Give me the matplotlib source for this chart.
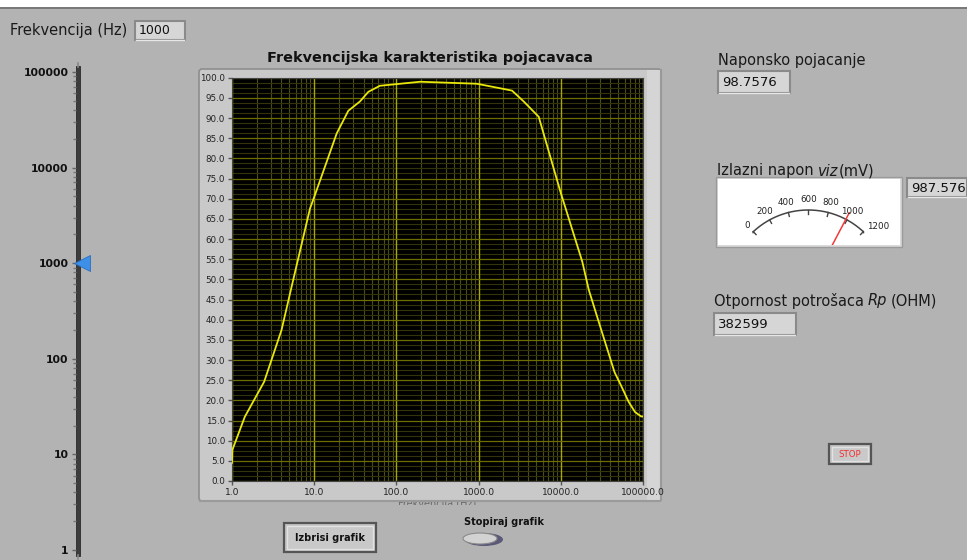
import numpy as np
import matplotlib
matplotlib.use("Agg")
import matplotlib.pyplot as plt
from matplotlib.patches import Rectangle, Ellipse, FancyBboxPatch
from matplotlib.ticker import FixedLocator, NullFormatter
from matplotlib.transforms import Bbox, TransformedBbox

# ---- data ----
freq_hz = [1.0, 1.01, 1.43, 2.46, 4.0, 5.4, 8.9, 10.2, 18.8, 26, 36, 45.6, 63,
           195, 955, 2550, 3540, 5390, 9900, 18240, 21900, 28000, 45000,
           53700, 67000, 80000, 95000, 100000]
gain = [4.5, 7.7, 15.9, 24.6, 37.4, 48.8, 67.6, 70.9, 86.2, 91.8, 94.1, 96.5, 98.0,
        99.0, 98.5, 96.8, 94.1, 90.3, 71.7, 54.4, 47.4, 40.4, 27.0,
        23.8, 19.6, 17.1, 16.0, 16.0]

freq_set = 1000
voltage_gain = 98.7576
output_mv = 987.576
load_ohm = 382599

y_ticks = np.arange(0, 101, 5)
x_ticks = [1, 10, 100, 1000, 10000, 100000]
slider_ticks = [1, 10, 100, 1000, 10000, 100000]
meter_ticks = [0, 200, 400, 600, 800, 1000, 1200]

W, H = 967, 560
BG = "#B3B3B3"
FONT = "DejaVu Sans"


def frect(x0, y0, x1, y1):
    return [x0 / W, 1 - y1 / H, (x1 - x0) / W, (y1 - y0) / H]


fig = plt.figure(figsize=(W / 100, H / 100), dpi=100, facecolor=BG)

# panel layer in pixel coordinates
pan = fig.add_axes([0, 0, 1, 1], zorder=0)
pan.set_xlim(0, W)
pan.set_ylim(H, 0)
pan.axis("off")

pan.add_patch(Rectangle((0, 0), W, 7, facecolor="white", edgecolor="none"))
pan.plot([0, W], [7.5, 7.5], color="#6E6E6E", lw=1.2)


def numbox(x0, y0, x1, y1, txt, size=9.5):
    pan.add_patch(Rectangle((x0, y0), x1 - x0, y1 - y0, facecolor="#D6D6D6",
                            edgecolor="#8A8A8A", lw=1.5))
    pan.plot([x0 + 1, x1 - 1], [y1 - 0.5, y1 - 0.5], color="#E6E6E6", lw=1)
    pan.text(x0 + 4, (y0 + y1) / 2 + 0.5, txt, fontsize=size, family=FONT,
             color="#111111", va="center", ha="left")


def button(x0, y0, x1, y1, txt, color, size, weight):
    pan.add_patch(Rectangle((x0, y0), x1 - x0, y1 - y0, facecolor="#C4C4C4",
                            edgecolor="#555555", lw=1.6))
    pan.add_patch(Rectangle((x0 + 3, y0 + 3), x1 - x0 - 6, y1 - y0 - 6,
                            facecolor="#C9C9C9", edgecolor="#E2E2E2", lw=1))
    pan.text((x0 + x1) / 2, (y0 + y1) / 2 + 0.5, txt, fontsize=size, family=FONT,
             weight=weight, color=color, ha="center", va="center")


# frequency control
pan.text(10, 30, "Frekvencija (Hz)", fontsize=10.5, family=FONT, color="#1A1A1A",
         va="center", ha="left")
numbox(135, 21, 185, 40, str(freq_set), size=9)

# slider bar
pan.add_patch(Rectangle((75.5, 66), 4, 490, facecolor="#3C3C3C", edgecolor="#2A2A2A", lw=0.6))
pan.plot([77.5, 77.5], [63, 67], color="#888888", lw=1.2)
pan.plot([77.5, 77.5], [555, 559], color="#888888", lw=1.2)

ax_s = fig.add_axes(frect(75.5, 72, 79.5, 550), zorder=2)
ax_s.set_yscale("log")
ax_s.set_ylim(1, 1e5)
ax_s.set_xlim(0, 1)
ax_s.patch.set_alpha(0)
for s in ax_s.spines.values():
    s.set_visible(False)
ax_s.set_xticks([])
ax_s.yaxis.set_major_locator(FixedLocator(slider_ticks))
ax_s.set_yticklabels([str(v) for v in slider_ticks], fontsize=7.8, weight="bold",
                     family=FONT, color="#111111")
minor = [m * d for d in slider_ticks[:-1] for m in range(2, 10)]
ax_s.yaxis.set_minor_locator(FixedLocator(minor))
ax_s.yaxis.set_minor_formatter(NullFormatter())
ax_s.tick_params(axis="y", which="major", length=3, width=1, color="#666666", pad=2)
ax_s.tick_params(axis="y", which="minor", length=2.5, width=1, color="#777777")
ax_s.plot([1.6], [freq_set], marker="<", markersize=11, color="#3D8FE8",
          markeredgecolor="#2A6FC0", mew=0.6, clip_on=False)

# graph frame
pan.add_patch(FancyBboxPatch((199, 69), 462, 432, boxstyle="round,pad=0,rounding_size=3",
                             facecolor="#C9C9C9", edgecolor="#8E8E8E", lw=1.2))
pan.add_patch(Rectangle((647, 70), 14, 430, facecolor="#D5D5D5", edgecolor="none"))
pan.plot([660.5, 660.5], [70, 500], color="#9A9A9A", lw=1.5)
pan.plot([200, 660], [500.5, 500.5], color="#9A9A9A", lw=1.5)
pan.text(430, 58, "Frekvencijska karakteristika pojacavaca", fontsize=10.4,
         weight="bold", family=FONT, color="#111111", ha="center", va="center")
xl = pan.text(437, 499, "Frekvencija (Hz)", fontsize=7, family=FONT, color="#6A6A6A",
              ha="center", va="top")
xl.set_clip_box(TransformedBbox(Bbox.from_extents(380, 501.5, 500, 504.5), pan.transData))
xl.set_clip_on(True)

ax = fig.add_axes(frect(232, 77.7, 643, 481), zorder=2)
ax.set_facecolor("black")
ax.set_xscale("log")
ax.set_xlim(1, 1e5)
ax.set_ylim(0, 100)

# grid lines
for d in x_ticks:
    ax.axvline(d, color="#A8A800", lw=1.0, zorder=1)
    if d < 1e5:
        for m in range(2, 10):
            ax.axvline(m * d, color="#4C4C14", lw=0.8, zorder=0.9)
for v in np.arange(0, 100.01, 1.25):
    if abs(v / 5 - round(v / 5)) < 1e-6:
        ax.axhline(v, color="#6E6E00", lw=0.9, zorder=1)
    else:
        ax.axhline(v, color="#34340A", lw=0.8, zorder=0.9)

ax.plot(freq_hz, gain, color="#E8E80A", lw=1.3, zorder=3)

ax.set_yticks(y_ticks)
ax.set_yticklabels([f"{v:.1f}" for v in y_ticks], fontsize=6.3, family=FONT, color="#222222")
ax.set_xticks(x_ticks)
ax.set_xticklabels([f"{v:.1f}" for v in x_ticks], fontsize=6.6, family=FONT, color="#222222")
ax.xaxis.set_minor_locator(FixedLocator([]))
ax.tick_params(axis="both", which="major", length=3, width=1, color="#555555", pad=2)
for s in ax.spines.values():
    s.set_color("#444444")
    s.set_linewidth(0.8)

# buttons
button(284, 523, 376, 552, "Izbrisi grafik", "#111111", 7, "bold")
pan.text(504, 522, "Stopiraj grafik", fontsize=7, weight="bold", family=FONT,
         color="#111111", ha="center", va="center")
pan.add_patch(Ellipse((484, 539.5), 38, 13, facecolor="#5A5A78", edgecolor="none"))
pan.add_patch(Ellipse((480, 538.5), 34, 11, facecolor="#D2D2D2", edgecolor="#8A8A8A", lw=0.8))
button(829, 444, 871, 464, "STOP", "#F03030", 6.2, "normal")

# right indicators
pan.text(718, 60, "Naponsko pojacanje", fontsize=10.5, family=FONT, color="#1A1A1A",
         va="center", ha="left")
numbox(718, 71, 790, 93, f"{voltage_gain:.4f}")

t1 = pan.text(717, 171, "Izlazni napon ", fontsize=10.5, family=FONT, color="#1A1A1A",
              va="center", ha="left")
pan.annotate("viz", xycoords=t1, xy=(1, 0.5), va="center", ha="left", fontsize=10.5,
             family=FONT, style="italic", color="#1A1A1A")
pan.text(839, 171, "(mV)", fontsize=10.5, family=FONT, color="#1A1A1A",
         va="center", ha="left")
numbox(907, 178, 967, 197, f"{output_mv:.3f}")

pan.text(714, 301, "Otpornost potrošaca ", fontsize=10.5, family=FONT,
         color="#1A1A1A", va="center", ha="left")
pan.text(868, 301, "Rp", fontsize=10.5, family=FONT, style="italic",
         color="#1A1A1A", va="center", ha="left")
pan.text(891, 301, "(OHM)", fontsize=10.5, family=FONT, color="#1A1A1A",
         va="center", ha="left")
numbox(714, 313, 796, 335, str(load_ohm))

# meter
pan.add_patch(Rectangle((716, 177), 186, 70, facecolor="#DADADA", edgecolor="#9A9A9A", lw=1))
axm = fig.add_axes(frect(718, 179, 900, 245), zorder=2)
axm.set_xlim(718, 900)
axm.set_ylim(245, 179)
axm.set_facecolor("white")
axm.set_xticks([])
axm.set_yticks([])
for s in axm.spines.values():
    s.set_visible(False)

cx, cy, R = 808.3, 290.6, 80.6
a0, a1 = 133.0, 47.0
vmax = 1200.0


def ang(v):
    return np.radians(a0 - (a0 - a1) * v / vmax)


th = np.linspace(ang(0), ang(vmax), 200)
axm.plot(cx + R * np.cos(th), cy - R * np.sin(th), color="#444444", lw=1.1)
for v in meter_ticks:
    a = ang(v)
    r_in = R - 4
    axm.plot([cx + r_in * np.cos(a), cx + R * np.cos(a)],
             [cy - r_in * np.sin(a), cy - R * np.sin(a)], color="#444444", lw=1)
    if v in (0, vmax):
        axm.plot([cx + R * np.cos(a), cx + (R - 4) * np.cos(a) + (-3 if v == 0 else 3)],
                 [cy - R * np.sin(a), cy - R * np.sin(a) + 1], color="#444444", lw=1)
    rl = R + 10
    lx, ly = cx + rl * np.cos(a), cy - rl * np.sin(a)
    if v == 0:
        lx, ly = lx + 1, ly + 1
    if v == vmax:
        lx, ly = lx + 8, ly + 2
    axm.text(lx, ly, str(v), fontsize=6.3, family=FONT, color="#222222",
             ha="center", va="center")

an = ang(output_mv)
axm.plot([cx + 40 * np.cos(an), cx + 88 * np.cos(an)],
         [cy - 40 * np.sin(an), cy - 88 * np.sin(an)], color="#F03A3A", lw=1.1)

fig.savefig("out.png", dpi=100, facecolor=BG)
